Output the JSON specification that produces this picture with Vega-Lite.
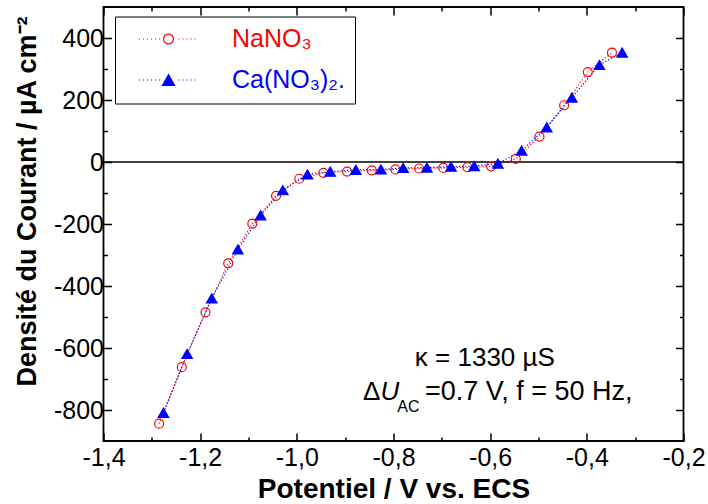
{
  "$schema": "https://vega.github.io/schema/vega-lite/v6.json",
  "width": 580,
  "height": 434,
  "autosize": "none",
  "padding": {"left": 103.5, "top": 7, "right": 24.5, "bottom": 63},
  "background": "white",
  "config": {
    "view": {"stroke": "black", "strokeWidth": 1.8},
    "font": "Liberation Sans",
    "axis": {"domain": false, "grid": false, "tickColor": "black", "tickWidth": 1.5, "labelColor": "black", "labelFont": "Liberation Sans", "labelFontSize": 25, "titleFont": "Liberation Sans", "titleFontSize": 27, "titleFontWeight": "bold", "titleColor": "black", "labelOverlap": false, "labelFlush": false}
  },
  "datasets": {
    "pts": [
      {"series": "NaNO₃", "E": -1.285, "j": -844},
      {"series": "NaNO₃", "E": -1.238, "j": -662},
      {"series": "NaNO₃", "E": -1.189, "j": -485},
      {"series": "NaNO₃", "E": -1.142, "j": -327},
      {"series": "NaNO₃", "E": -1.092, "j": -199},
      {"series": "NaNO₃", "E": -1.043, "j": -109},
      {"series": "NaNO₃", "E": -0.995, "j": -54},
      {"series": "NaNO₃", "E": -0.945, "j": -35},
      {"series": "NaNO₃", "E": -0.896, "j": -31},
      {"series": "NaNO₃", "E": -0.845, "j": -27},
      {"series": "NaNO₃", "E": -0.796, "j": -24},
      {"series": "NaNO₃", "E": -0.747, "j": -21},
      {"series": "NaNO₃", "E": -0.697, "j": -19},
      {"series": "NaNO₃", "E": -0.647, "j": -17},
      {"series": "NaNO₃", "E": -0.598, "j": -14},
      {"series": "NaNO₃", "E": -0.547, "j": 10},
      {"series": "NaNO₃", "E": -0.498, "j": 82},
      {"series": "NaNO₃", "E": -0.447, "j": 183},
      {"series": "NaNO₃", "E": -0.398, "j": 290},
      {"series": "NaNO₃", "E": -0.348, "j": 353},
      {"series": "Ca(NO₃)₂.", "E": -1.276, "j": -809},
      {"series": "Ca(NO₃)₂.", "E": -1.227, "j": -619},
      {"series": "Ca(NO₃)₂.", "E": -1.176, "j": -440},
      {"series": "Ca(NO₃)₂.", "E": -1.122, "j": -282},
      {"series": "Ca(NO₃)₂.", "E": -1.075, "j": -172},
      {"series": "Ca(NO₃)₂.", "E": -1.029, "j": -91},
      {"series": "Ca(NO₃)₂.", "E": -0.978, "j": -40},
      {"series": "Ca(NO₃)₂.", "E": -0.931, "j": -31},
      {"series": "Ca(NO₃)₂.", "E": -0.878, "j": -25},
      {"series": "Ca(NO₃)₂.", "E": -0.826, "j": -24},
      {"series": "Ca(NO₃)₂.", "E": -0.780, "j": -19},
      {"series": "Ca(NO₃)₂.", "E": -0.731, "j": -18},
      {"series": "Ca(NO₃)₂.", "E": -0.681, "j": -15},
      {"series": "Ca(NO₃)₂.", "E": -0.633, "j": -13},
      {"series": "Ca(NO₃)₂.", "E": -0.584, "j": -5},
      {"series": "Ca(NO₃)₂.", "E": -0.535, "j": 37},
      {"series": "Ca(NO₃)₂.", "E": -0.483, "j": 112},
      {"series": "Ca(NO₃)₂.", "E": -0.431, "j": 208},
      {"series": "Ca(NO₃)₂.", "E": -0.374, "j": 313},
      {"series": "Ca(NO₃)₂.", "E": -0.327, "j": 353}
    ]
  },
  "data": {"name": "pts"},
  "layer": [
    {
      "transform": [{"filter": "datum.series === 'NaNO₃'"}],
      "mark": {"type": "line", "color": "red", "strokeWidth": 1.2, "strokeDash": [1.2, 2]},
      "encoding": {
        "x": {"field": "E", "type": "quantitative", "scale": {"domain": [-1.4, -0.2], "nice": false, "zero": false},
          "axis": {"orient": "bottom", "values": [-1.4, -1.3, -1.2, -1.1, -1.0, -0.9, -0.8, -0.7, -0.6, -0.5, -0.4, -0.3, -0.2],
            "tickSize": {"condition": {"test": "abs(datum.value*5 - round(datum.value*5)) < 0.001", "value": -8}, "value": -4},
            "labelExpr": "abs(datum.value*5 - round(datum.value*5)) < 0.001 ? '-' + replace(format(abs(datum.value), '.1f'), '.', ',') : ''",
            "labelPadding": 12, "title": "Potentiel / V vs. ECS", "titleFontSize": 28, "titlePadding": 1}},
        "y": {"field": "j", "type": "quantitative", "scale": {"domain": [-900, 500], "nice": false, "zero": false},
          "axis": {"orient": "left", "values": [-800, -700, -600, -500, -400, -300, -200, -100, 0, 100, 200, 300, 400],
            "tickSize": {"condition": {"test": "abs(datum.value % 200) < 1", "value": -8}, "value": -4},
            "labelExpr": "abs(datum.value % 200) < 1 ? (datum.value < 0 ? '-' : '') + format(abs(datum.value), 'd') : ''",
            "labelPadding": 8, "title": "Densité du Courant / µA cm⁻²", "titleX": -62, "titleY": 194}}
      }
    },
    {
      "transform": [{"filter": "datum.series !== 'NaNO₃'"}],
      "mark": {"type": "line", "color": "blue", "strokeWidth": 1.2, "strokeDash": [1.2, 2]},
      "encoding": {
        "x": {"field": "E", "type": "quantitative",
          "axis": {"orient": "top", "values": [-1.4, -1.3, -1.2, -1.1, -1.0, -0.9, -0.8, -0.7, -0.6, -0.5, -0.4, -0.3, -0.2],
            "tickSize": {"condition": {"test": "abs(datum.value*5 - round(datum.value*5)) < 0.001", "value": -8}, "value": -4},
            "labels": false, "title": null}},
        "y": {"field": "j", "type": "quantitative",
          "axis": {"orient": "right", "values": [-800, -700, -600, -500, -400, -300, -200, -100, 0, 100, 200, 300, 400],
            "tickSize": {"condition": {"test": "abs(datum.value % 200) < 1", "value": -8}, "value": -4},
            "labels": false, "title": null}}
      }
    },
    {
      "data": {"values": [{}]},
      "mark": {"type": "rule", "color": "black", "strokeWidth": 1.5},
      "encoding": {"y": {"datum": 0, "type": "quantitative", "axis": null}}
    },
    {
      "mark": {"type": "point", "filled": true, "strokeWidth": 1.2, "opacity": 1,
        "fill": {"expr": "(datum.series || datum.value) === 'NaNO₃' ? 'transparent' : 'blue'"},
        "shape": {"expr": "datum.series === 'NaNO₃' ? 'circle' : 'triangle-up'"},
        "size": {"expr": "datum.series === 'NaNO₃' ? 81 : 110"}},
      "encoding": {
        "x": {"field": "E", "type": "quantitative", "axis": null},
        "y": {"field": "j", "type": "quantitative", "axis": null},
        "stroke": {"field": "series", "type": "nominal", "sort": null,
          "scale": {"domain": ["NaNO₃", "Ca(NO₃)₂."], "range": ["red", "blue"]},
          "legend": {"orient": "none", "legendX": 11.5, "legendY": 9.5, "title": null, "padding": 10,
            "strokeColor": "black", "symbolSize": 81, "symbolOffset": 31, "labelOffset": 51, "rowPadding": 15,
            "symbolStrokeWidth": 1.2, "symbolOpacity": 1,
            "symbolType": {"expr": "datum.value === 'NaNO₃' ? 'M-6.6,0h0.25M-5.7,0h0.25M-4.8,0h0.25M-3.9,0h0.25M-3,0h0.25M-2.1,0h0.25M2.2,0h0.25M3.1,0h0.25M4,0h0.25M4.9,0h0.25M5.8,0h0.25M1.1,0A1.1,1.1,0,1,1,-1.1,0A1.1,1.1,0,1,1,1.1,0Z' : 'M-6.6,0h0.25M-5.7,0h0.25M-4.8,0h0.25M-3.9,0h0.25M-3,0h0.25M-2.1,0h0.25M2.2,0h0.25M3.1,0h0.25M4,0h0.25M4.9,0h0.25M5.8,0h0.25M0,-1.2L1.35,1.2L-1.35,1.2Z'"},
            "labelColor": {"expr": "datum.value === 'NaNO₃' ? 'red' : 'blue'"},
            "labelFont": "Liberation Sans", "labelFontSize": 25, "labelLimit": 400,
            "labelExpr": "datum.label + '\u00a0\u00a0\u00a0\u00a0\u00a0\u00a0\u00a0\u00a0\u00a0\u00a0\u00a0'"
          }}
      }
    },
    {
      "data": {"values": [{}]},
      "mark": {"type": "text", "align": "center", "baseline": "alphabetic", "fontSize": 26, "font": "Liberation Sans", "color": "black"},
      "encoding": {"x": {"datum": -0.611, "type": "quantitative", "axis": null}, "y": {"datum": -657, "type": "quantitative", "axis": null}, "text": {"value": "κ = 1330 µS"}}
    },
    {
      "data": {"values": [{}]},
      "mark": {"type": "text", "align": "left", "baseline": "alphabetic", "fontSize": 26, "font": "Liberation Sans", "color": "black"},
      "encoding": {"x": {"datum": -0.863, "type": "quantitative", "axis": null}, "y": {"datum": -769, "type": "quantitative", "axis": null}, "text": {"value": "Δ"}}
    },
    {
      "data": {"values": [{}]},
      "mark": {"type": "text", "align": "left", "baseline": "alphabetic", "fontSize": 26, "fontStyle": "italic", "font": "Liberation Sans", "color": "black"},
      "encoding": {"x": {"datum": -0.827, "type": "quantitative", "axis": null}, "y": {"datum": -769, "type": "quantitative", "axis": null}, "text": {"value": "U"}}
    },
    {
      "data": {"values": [{}]},
      "mark": {"type": "text", "align": "left", "baseline": "alphabetic", "fontSize": 16, "font": "Liberation Sans", "color": "black"},
      "encoding": {"x": {"datum": -0.792, "type": "quantitative", "axis": null}, "y": {"datum": -805, "type": "quantitative", "axis": null}, "text": {"value": "AC"}}
    },
    {
      "data": {"values": [{}]},
      "mark": {"type": "text", "align": "left", "baseline": "alphabetic", "fontSize": 27, "font": "Liberation Sans", "color": "black"},
      "encoding": {"x": {"datum": -0.735, "type": "quantitative", "axis": null}, "y": {"datum": -769, "type": "quantitative", "axis": null}, "text": {"value": "=0.7 V, f = 50 Hz,"}}
    }
  ],
  "resolve": {"axis": {"x": "independent", "y": "independent"}}
}
